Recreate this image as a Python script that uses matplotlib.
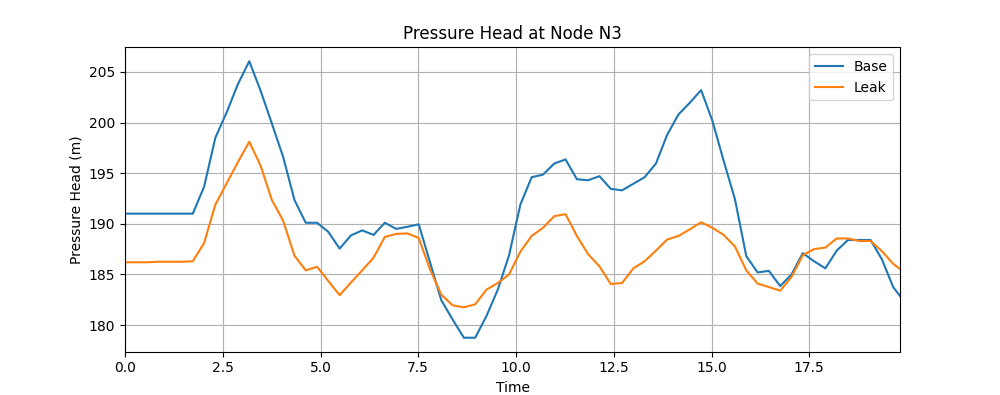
import numpy as np
import matplotlib
matplotlib.use("Agg")
import matplotlib.pyplot as plt

# time step of the simulation output (hours)
STEP = 0.2889
X_MAX = 19.82

base = [191.0, 191.0, 191.0, 191.0, 191.0, 191.0, 191.0, 193.65, 198.5, 201.0,
        203.8, 206.05, 203.15, 199.9, 196.6, 192.35, 190.1, 190.1, 189.2, 187.55,
        188.85, 189.35, 188.9, 190.1, 189.5, 189.7, 189.95, 186.2, 182.45, 180.55,
        178.75, 178.75, 180.9, 183.5, 186.9, 191.9, 194.6, 194.85, 195.95, 196.35,
        194.4, 194.3, 194.7, 193.45, 193.3, 193.95, 194.6, 195.95, 198.8, 200.8,
        201.95, 203.2, 200.15, 196.2, 192.4, 186.8, 185.2, 185.35, 183.85, 185.0,
        187.1, 186.3, 185.6, 187.35, 188.4, 188.4, 188.4, 186.5, 183.75, 182.3]

leak = [186.2, 186.2, 186.2, 186.25, 186.25, 186.25, 186.3, 188.1, 191.9, 194.0,
        196.1, 198.1, 195.75, 192.35, 190.3, 186.85, 185.4, 185.75, 184.35, 182.95,
        184.2, 185.4, 186.65, 188.7, 189.0, 189.05, 188.6, 185.5, 183.0, 181.95,
        181.75, 182.05, 183.5, 184.15, 185.0, 187.25, 188.8, 189.6, 190.75, 190.95,
        188.8, 187.0, 185.8, 184.05, 184.15, 185.6, 186.3, 187.35, 188.45, 188.8,
        189.45, 190.15, 189.6, 188.9, 187.75, 185.4, 184.1, 183.75, 183.4, 184.75,
        186.9, 187.5, 187.65, 188.55, 188.55, 188.3, 188.3, 187.3, 186.05, 185.2]

times = np.arange(len(base)) * STEP

fig, ax = plt.subplots(figsize=(10, 3.95), dpi=100)
ax.plot(times, base, label="Base")
ax.plot(times, leak, label="Leak")
ax.set_xlim(0, X_MAX)
ax.set_title("Pressure Head at Node N3")
ax.set_xlabel("Time")
ax.set_ylabel("Pressure Head (m)")
ax.grid(True)
ax.legend(loc="upper right")

fig.savefig("out.png", dpi=100)
